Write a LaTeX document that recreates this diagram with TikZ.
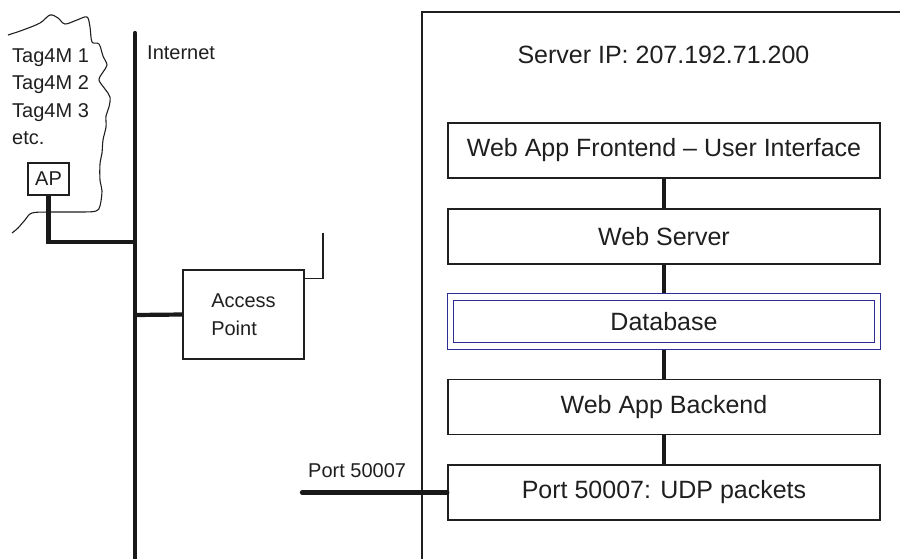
\documentclass[tikz,border=0pt]{standalone}
\usepackage{fontspec}
\setmainfont{Liberation Sans}
\begin{document}
\begin{tikzpicture}[x=1pt,y=-1pt,
  ink/.style={draw=black!88},
  thin line/.style={draw=black!88, line width=1.3pt},
  thick line/.style={draw=black!90, line width=4.2pt},
  srvbox/.style={draw=black!88, line width=1.3pt, minimum width=432pt, minimum height=55pt, inner sep=0pt, text=black!88, font=\fontsize{25}{30}\selectfont},
  dbbox/.style={draw={rgb,255:red,45;green,45;blue,145}, line width=1.1pt, double=white, double distance=5.6pt, minimum width=427pt, minimum height=48.5pt, inner sep=0pt, text=black!88, font=\fontsize{25}{30}\selectfont},
  small/.style={text=black!88, font=\fontsize{20}{24}\selectfont, inner sep=0pt},
  big/.style={text=black!88, font=\fontsize{25}{30}\selectfont, inner sep=0pt}
]
\useasboundingbox (0,0) rectangle (900,558);
\clip (0,0) rectangle (900,558);

% server enclosure
\draw[thin line] (910,12) -- (422,12) -- (422,570);
\node[big, anchor=base] (srvip) at (663.5,63) {Server IP: 207.192.71.200};

% server stack
\node[srvbox] (front) at (664,150.5) {Web App Frontend – User Interface};
\node[srvbox] (web) at (664,236.5) {Web Server};
\node[dbbox] (db) at (664,321.5) {Database};
\node[srvbox] (back) at (664,407) {Web App Backend};
\node[srvbox] (port) at (664,492.5) {Port 50007: UDP packets};

\draw[thick line, line width=4pt] (front.south) -- (web.north);
\draw[thick line, line width=4pt] (web.south) -- ([yshift=3.5pt]db.north);
\draw[thick line, line width=4pt] ([yshift=-3.5pt]db.south) -- (back.north);
\draw[thick line, line width=4pt] (back.south) -- (port.north);

% port line
\coordinate (pstart) at (302,492.5);
\draw[thick line, line cap=round] (pstart) -- (port.west);
\node[small, anchor=base west] (plabel) at (308,477) {Port 50007};

% internet backbone
\coordinate (itop) at (135,33);
\coordinate (ibot) at (135,570);
\draw[thick line, line cap=round] (itop) -- (ibot);
\node[small, anchor=base west] (inet) at (147,59) {Internet};

% cloud
\draw[ink, line width=1.1pt, line join=round] plot[smooth, tension=0.55] coordinates {
 (8,35) (23,30) (40,23) (50,15) (58,18) (65,24) (77,20) (87,17) (90,27) (92,42)
 (99,44) (103,56) (107,65) (103,72) (99,80) (105,89) (110,97) (109,107) (106,116)
 (106,127) (103,140) (102,153) (100,164) (100,180) (102,191) (100,206) (96,211)
 (83,212) (50,212) (32,213) (25,220) (18,228) (12,233)};

\node[small, anchor=base west] (t1) at (12,62) {Tag4M 1};
\node[small, anchor=base west] (t2) at (12,89) {Tag4M 2};
\node[small, anchor=base west] (t3) at (12,117) {Tag4M 3};
\node[small, anchor=base west] (t4) at (12,144) {etc.};

% AP box
\node[thin line, minimum width=41pt, minimum height=32pt, inner sep=0pt, text=black!88, font=\fontsize{20}{24}\selectfont] (ap) at (48.5,179) {AP};
\coordinate (j1) at (135,242);
\draw[thick line] (ap.south) |- (j1);

% Access point
\node[thin line, minimum width=121pt, minimum height=89pt, inner sep=0pt, align=left, text=black!88, font=\fontsize{20}{28}\selectfont] (acc) at (243.5,314.5) {Access\\Point};
\coordinate (j2) at (135,315);
\draw[thick line] (j2) -- (acc.west);
\coordinate (ant) at (323,233);
\draw[thin line] ([yshift=-9pt]acc.north east) -| (ant);

\end{tikzpicture}
\end{document}
